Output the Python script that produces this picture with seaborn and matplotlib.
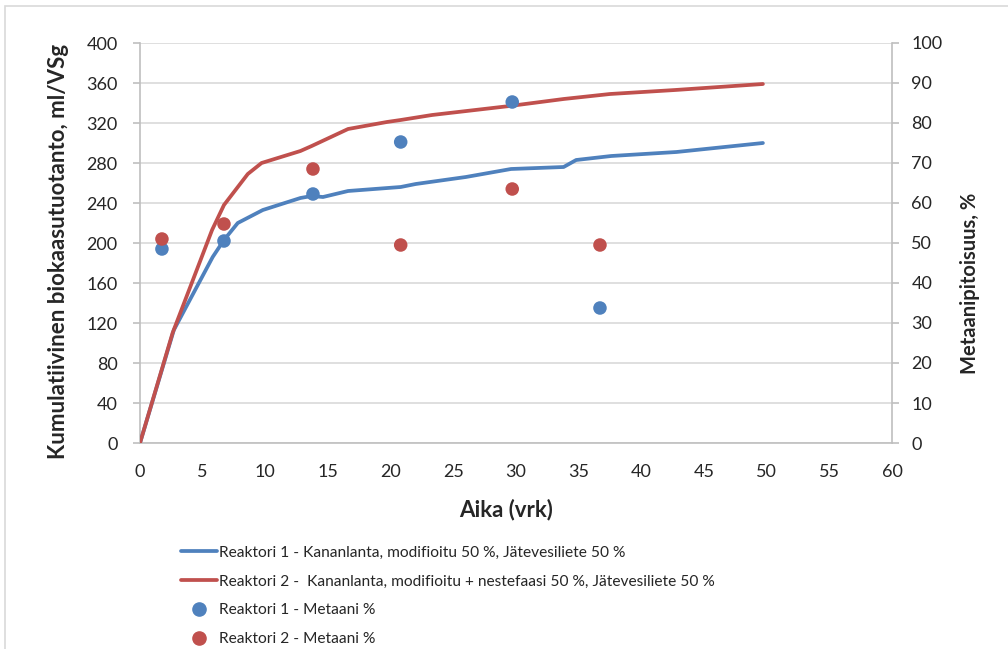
import numpy as np
import pandas as pd
import matplotlib
matplotlib.use("Agg")
import matplotlib.pyplot as plt
import seaborn as sns
from matplotlib.lines import Line2D
from matplotlib.patches import Rectangle

# cumulative biogas, ml/VSg
r1_days = [0, 2.7, 5.8, 6.7, 7.8, 9.8, 12.8, 13.7, 14.6, 16.6, 20.8, 22.0, 26.0, 29.6, 33.8, 34.8, 37.6, 42.8, 49.7]
r1_gas = [0, 113, 186, 203, 220, 233, 245, 247, 246, 252, 256, 259, 266, 274, 276, 283, 287, 291, 300]
r2_days = [0, 2.6, 5.75, 6.7, 8.6, 9.7, 12.8, 13.7, 16.6, 19.7, 20.8, 23.3, 29.5, 33.8, 37.5, 42.7, 49.7]
r2_gas = [0, 110, 213, 238, 269, 280, 292, 297, 314, 321, 323, 328, 337, 344, 349, 353, 359]

# methane content, %
ch4_days = [1.75, 6.7, 13.8, 20.8, 29.7, 36.7]
r1_ch4 = [48.5, 50.5, 62.25, 75.25, 85.25, 33.75]
r2_ch4 = [51.0, 54.75, 68.5, 49.5, 63.5, 49.5]

labels = ["Reaktori 1 - Kananlanta, modifioitu 50 %, Jätevesiliete 50 %",
          "Reaktori 2 -  Kananlanta, modifioitu + nestefaasi 50 %, Jätevesiliete 50 %",
          "Reaktori 1 - Metaani %",
          "Reaktori 2 - Metaani %"]

blue = "#4F81BD"
red = "#C0504D"
grid = "#D9D9D9"
axcol = "#BFBFBF"

sns.set_style("white")
plt.rcParams['font.family'] = ['Lato', 'DejaVu Sans']

fig = plt.figure(figsize=(10.08, 6.49), dpi=100)
ax = fig.add_axes([140/1008, 1 - 443/649, (892-140)/1008, 400/649])

df1 = pd.DataFrame({"x": r1_days, "y": r1_gas})
df2 = pd.DataFrame({"x": r2_days, "y": r2_gas})
sns.lineplot(data=df1, x="x", y="y", ax=ax, color=blue, lw=2.7, zorder=3)
sns.lineplot(data=df2, x="x", y="y", ax=ax, color=red, lw=2.7, zorder=3)

ax.set_xlim(0, 60)
ax.set_ylim(0, 400)
ax.set_xticks(range(0, 61, 5))
ax.set_yticks(range(0, 401, 40))
ax.yaxis.grid(True, color=grid, lw=1.2)
ax.set_axisbelow(True)
for s in ["top", "right"]:
    ax.spines[s].set_visible(False)
for s in ["left", "bottom"]:
    ax.spines[s].set_color(axcol)
    ax.spines[s].set_linewidth(1.2)
ax.tick_params(axis="y", length=5, color=axcol, width=1.2, labelsize=13, pad=11)
ax.tick_params(axis="x", length=0, labelsize=13, pad=15)
ax.set_xlabel("Aika (vrk)", fontsize=16, fontweight="bold")
ax.set_ylabel("Kumulatiivinen biokaasutuotanto, ml/VSg", fontsize=16, fontweight="bold")
ax.xaxis.set_label_coords(0.487, -0.14)
ax.yaxis.set_label_coords(-0.095, 0.48)

ax2 = ax.twinx()
sc = pd.DataFrame({"x": ch4_days * 2, "y": r1_ch4 + r2_ch4,
                   "s": ["r1"] * len(ch4_days) + ["r2"] * len(ch4_days)})
sns.scatterplot(data=sc, x="x", y="y", hue="s", palette=[blue, red], s=95,
                linewidth=0, ax=ax2, legend=False, zorder=4)
ax2.set_ylim(0, 100)
ax2.set_yticks(range(0, 101, 10))
ax2.set_xlim(0, 60)
for s in ["top", "left", "bottom"]:
    ax2.spines[s].set_visible(False)
ax2.spines["right"].set_color(axcol)
ax2.spines["right"].set_linewidth(1.2)
ax2.tick_params(axis="y", length=5, color=axcol, width=1.2, labelsize=13, pad=9)
ax2.set_xlabel("")
ax2.set_ylabel("Metaanipitoisuus, %", fontsize=14.5, fontweight="bold")
ax2.yaxis.set_label_coords(1.09, 0.4)

handles = [Line2D([], [], color=blue, lw=2.7),
           Line2D([], [], color=red, lw=2.7),
           Line2D([], [], color=blue, marker="o", ls="", ms=9.5),
           Line2D([], [], color=red, marker="o", ls="", ms=9.5)]
fig.legend(handles, labels, loc="upper left", bbox_to_anchor=(173/1008, 1 - 538/649),
           frameon=False, fontsize=11.2, handlelength=2.3, handletextpad=0.15,
           labelspacing=0.95, borderpad=0)

fig.patches.append(Rectangle((5/1008, -0.1), 1.2, 1 - 6/649 + 0.1, transform=fig.transFigure,
                             fill=False, edgecolor="#D9D9D9", lw=1.2))

fig.savefig("out.png", dpi=100)
